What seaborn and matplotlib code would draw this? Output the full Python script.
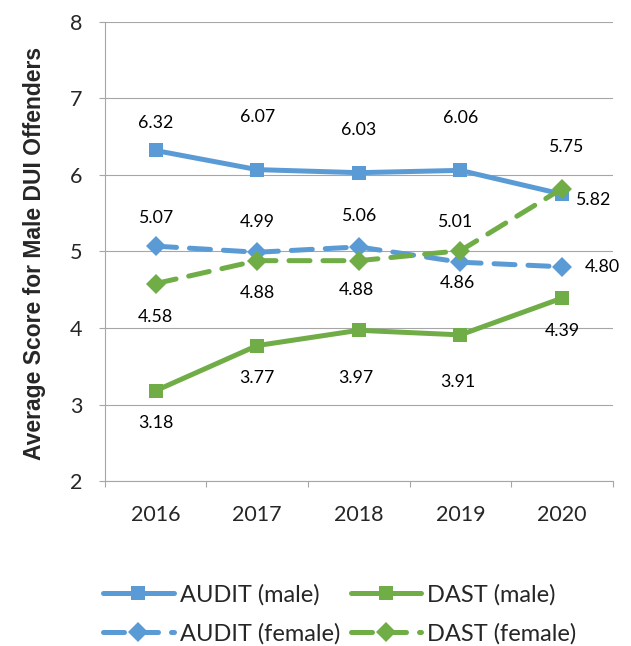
import pandas as pd
import matplotlib.pyplot as plt
import seaborn as sns
from matplotlib.ticker import FixedLocator

years = ['2016', '2017', '2018', '2019', '2020']
audit_male = [6.32, 6.07, 6.03, 6.06, 5.75]
audit_female = [5.07, 4.99, 5.06, 4.86, 4.80]
dast_male = [3.18, 3.77, 3.97, 3.91, 4.39]
dast_female = [4.58, 4.88, 4.88, 5.01, 5.82]

series_names = ['AUDIT (male)', 'AUDIT (female)', 'DAST (male)', 'DAST (female)']
series_values = [audit_male, audit_female, dast_male, dast_female]

# long form table for seaborn
df = pd.DataFrame({
    'Year': years * 4,
    'Score': audit_male + audit_female + dast_male + dast_female,
    'Series': [s for s in series_names for _ in years],
})

blue = '#5B9BD5'
green = '#70AD47'
palette = {'AUDIT (male)': blue, 'AUDIT (female)': blue,
           'DAST (male)': green, 'DAST (female)': green}
markers = {'AUDIT (male)': 's', 'AUDIT (female)': 'D',
           'DAST (male)': 's', 'DAST (female)': 'D'}
dashes = {'AUDIT (male)': '', 'AUDIT (female)': (4.2, 2.6),
          'DAST (male)': '', 'DAST (female)': (4.2, 2.6)}

# label offsets (points) for each data label, per series
label_offsets = {
    'AUDIT (male)': [(0, 20), (0, 38), (0, 31), (0, 38), (3, 34)],
    'AUDIT (female)': [(0, 20), (0, 22), (0, 22), (-2, -15), (29, 0)],
    'DAST (male)': [(0, -23), (0, -23), (-2, -34), (-2, -34), (0, -24)],
    'DAST (female)': [(0, -24), (0, -23), (-2, -21), (-4, 21), (22, -8)],
}

sns.set_style('white')
plt.rcParams['font.family'] = ['Lato', 'DejaVu Sans']

fig = plt.figure(figsize=(6.31, 6.46), dpi=100)
ax = fig.add_axes([0.166, 0.2554, 0.805, 0.7106])

sns.lineplot(data=df, x='Year', y='Score', hue='Series', style='Series',
             palette=palette, markers=markers, dashes=dashes, sort=False,
             linewidth=3.6, markersize=10.5, markeredgewidth=0,
             dash_capstyle='round', solid_capstyle='round', ax=ax)

for name, vals in zip(series_names, series_values):
    for i, v in enumerate(vals):
        ax.annotate(f'{v:.2f}', (i, v), xytext=label_offsets[name][i],
                    textcoords='offset points', ha='center', va='center',
                    fontsize=12.8, color='black')

ax.set_ylim(2, 8)
ax.set_xlim(-0.5, 4.5)
ax.set_yticks(range(2, 9))
ax.grid(axis='y', color='#A6A6A6', linewidth=0.8)
ax.grid(axis='x', visible=False)
ax.set_axisbelow(True)
for side in ['top', 'right']:
    ax.spines[side].set_visible(False)
for side in ['left', 'bottom']:
    ax.spines[side].set_color('#A6A6A6')
    ax.spines[side].set_linewidth(0.8)

ax.tick_params(axis='y', direction='out', length=4, width=0.8, color='#A6A6A6',
               pad=12, labelsize=15.5, left=True)
ax.tick_params(axis='x', which='major', length=0, pad=17, labelsize=15.5)
ax.xaxis.set_minor_locator(FixedLocator([-0.5, 0.5, 1.5, 2.5, 3.5, 4.5]))
ax.tick_params(axis='x', which='minor', direction='out', length=4, width=0.8,
               color='#A6A6A6', bottom=True)

ax.set_xlabel('')
ylab = ax.set_ylabel('Average Score for Male DUI Offenders')
ylab.set_family(['Liberation Sans', 'DejaVu Sans'])
ylab.set_weight('bold')
ylab.set_size(16.5)
ax.yaxis.set_label_coords(-0.115, 0.495)

leg = ax.get_legend()
handles = list(leg.legend_handles)
labels = [t.get_text() for t in leg.get_texts()]
leg.remove()
order = [labels.index(n) for n in series_names]
for h in handles:
    h.set_linewidth(3.6)
    h.set_markersize(10.5)
fig.legend([handles[i] for i in order], [labels[i] for i in order],
           loc='upper left', bbox_to_anchor=(0.163, 0.096), ncol=2,
           frameon=False, fontsize=17, handlelength=3.0, handletextpad=0.25,
           columnspacing=0.45, labelspacing=0.75, borderpad=0, borderaxespad=0)

plt.savefig('out.png', dpi=100)
